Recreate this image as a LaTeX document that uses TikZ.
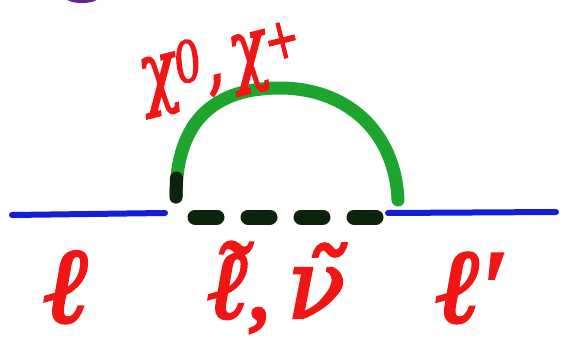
\documentclass[tikz,border=0pt]{standalone}
\usepackage{fontspec}
\usepackage{graphicx}
\newfontfamily\hand{Liberation Serif}[FakeBold=3]
\newfontfamily\handB{DejaVu Serif}[FakeBold=2.5]
\definecolor{inkred}{RGB}{240,22,22}
\definecolor{inkblue}{RGB}{20,30,215}
\definecolor{inkgreen}{RGB}{30,165,45}
\definecolor{inkdark}{RGB}{12,35,14}
\definecolor{inkpurple}{RGB}{105,35,140}
\newcommand{\tildeon}[2]{\ooalign{#2\cr\hidewidth\kern0.08em\raisebox{#1}{˜}\hidewidth\cr}}
\tikzset{
  lab/.style={text=inkred, inner sep=0pt, anchor=base, font=\hand\itshape},
  wire/.style={draw=inkblue, line width=6pt, line cap=round},
  arch/.style={draw=inkgreen, line width=13pt, line cap=round},
  scalar/.style={draw=inkdark, line width=15pt, line cap=round, dash pattern=on 22pt off 31pt}
}
\begin{document}
\begin{tikzpicture}[x=1pt,y=-1pt]
\useasboundingbox (0,0) rectangle (571,343);
\clip (0,0) rectangle (571,343);
\fill[white] (0,0) rectangle (571,343);
% purple blob at top edge
\fill[inkpurple] (82,-2) ellipse [x radius=16pt, y radius=5pt];
% external lepton lines
\coordinate (l1) at (12,215);
\coordinate (v1) at (165,213);
\coordinate (v2) at (388,213);
\coordinate (l2) at (556,212);
\draw[wire] (l1) -- (v1);
\draw[wire] (v2) -- (l2);
% gaugino arch
\coordinate (a1) at (176,197);
\coordinate (a2) at (398,200);
\draw[arch] (a1) .. controls (176,120) and (215,88) .. (280,88)
            .. controls (345,88) and (395,130) .. (a2);
\draw[draw=inkdark, line width=13pt, line cap=round] (a1) -- (176.5,178);
% slepton / sneutrino dashed line
\coordinate (s1) at (195,217);
\coordinate (s2) at (380,217);
\draw[scalar] (s1) -- (s2);
% labels
\node[lab, anchor=center, rotate=14, font=\handB\itshape] (top) at (222,66)
  {\fontsize{80}{80}\selectfont\scalebox{0.75}[1]{χ\textsuperscript{0},\,χ\textsuperscript{+}}};
\node[lab] (lA) at (65,322) {\fontsize{106}{106}\selectfont ℓ};
\node[lab] (lB) at (276,318) {\fontsize{96}{96}\selectfont
  \tildeon{0.12em}{ℓ},\,{\handB\itshape\tildeon{0em}{ν}}};
\node[lab] (lC) at (468,322) {\fontsize{104}{104}\selectfont ℓ′};
\end{tikzpicture}
\end{document}
